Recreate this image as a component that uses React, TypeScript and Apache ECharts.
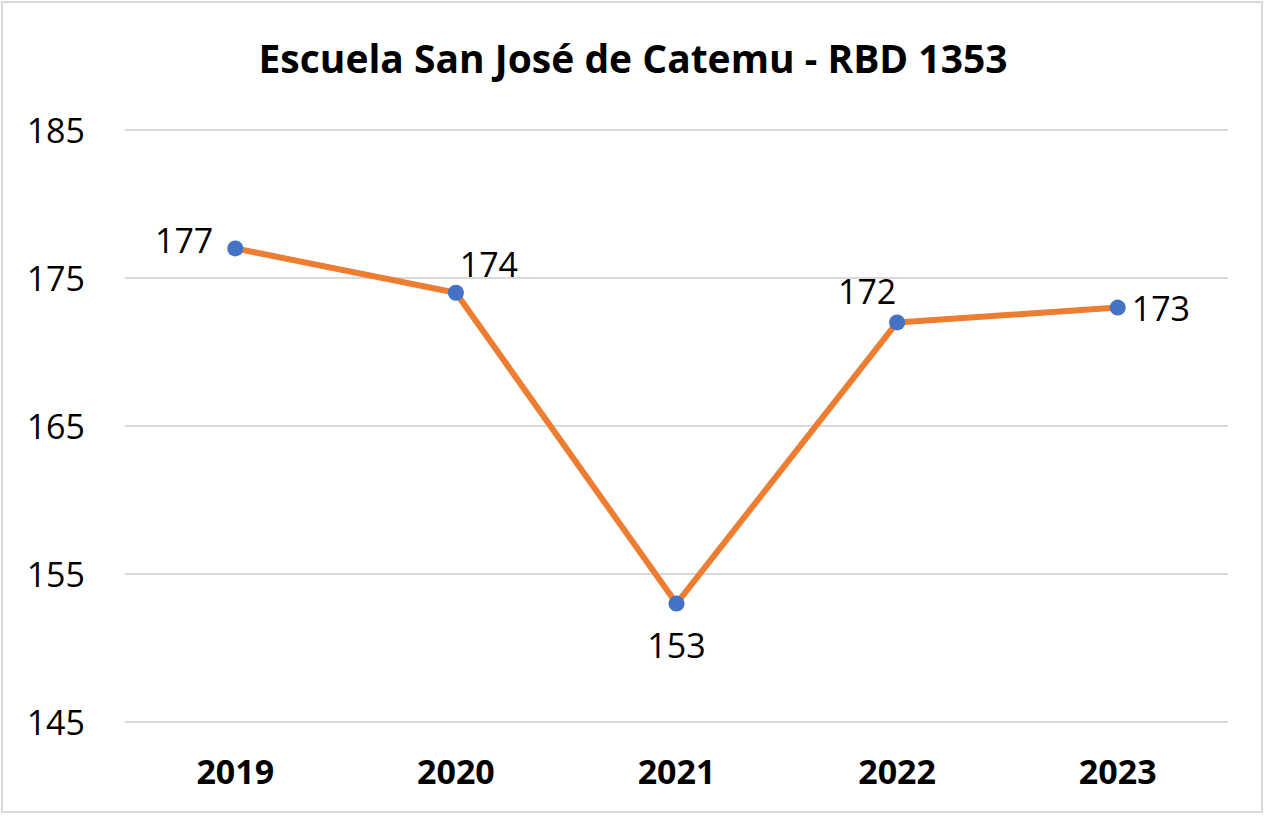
import React, { useEffect, useRef } from "react";
import * as echarts from "echarts";

const categories = ["2019", "2020", "2021", "2022", "2023"];
const values = [177, 174, 153, 172, 173];
const yTicks = [145, 155, 165, 175, 185];
const titleText = "Escuela San José de Catemu - RBD 1353";

const FONT = "'Open Sans', 'Noto Sans', sans-serif";

export default function App() {
  const ref = useRef<HTMLDivElement>(null);
  useEffect(() => {
    if (!ref.current) return;
    const chart = echarts.init(ref.current, undefined, { renderer: "svg" });
    const labelCfg = [
      { position: "left", distance: 14, offset: [0, -8] },
      { position: "top", distance: 4, offset: [33, 0] },
      { position: "bottom", distance: 16, offset: [0, 0] },
      { position: "top", distance: 6, offset: [-30, 0] },
      { position: "right", distance: 6, offset: [0, 0] },
    ];
    chart.setOption({
      animation: false,
      backgroundColor: "#ffffff",
      title: {
        text: titleText,
        left: "center",
        top: 33,
        textStyle: { fontFamily: FONT, fontWeight: "bold", fontSize: 39, color: "#000" },
      },
      graphic: [
        {
          type: "rect",
          shape: { x: 2, y: 2, width: 1260, height: 810 },
          style: { fill: "none", stroke: "#d9d9d9", lineWidth: 2 },
        },
      ],
      grid: { left: 125, right: 38, top: 130, bottom: 95 },
      xAxis: {
        type: "category",
        data: categories,
        boundaryGap: true,
        axisLine: { show: false },
        axisTick: { show: false },
        axisLabel: { fontFamily: FONT, fontWeight: "bold", fontSize: 34, color: "#000", margin: 32 },
      },
      yAxis: {
        type: "value",
        min: yTicks[0],
        max: yTicks[yTicks.length - 1],
        interval: 10,
        axisLine: { show: false },
        axisTick: { show: false },
        splitLine: { lineStyle: { color: "#d9d9d9", width: 2 } },
        axisLabel: { fontFamily: FONT, fontWeight: 500, fontSize: 34, color: "#000", margin: 40 },
      },
      series: [
        {
          type: "line",
          data: values.map((v, i) => ({
            value: v,
            label: {
              show: true,
              position: labelCfg[i].position,
              distance: labelCfg[i].distance,
              offset: labelCfg[i].offset,
            },
          })),
          symbol: "circle",
          symbolSize: 16,
          lineStyle: { color: "#ED7D31", width: 6 },
          itemStyle: { color: "#4472C4" },
          label: { fontFamily: FONT, fontWeight: 500, fontSize: 34, color: "#000" },
          z: 3,
        },
      ],
    });
    return () => chart.dispose();
  }, []);
  return (
    <div
      ref={ref}
      style={{ position: "fixed", left: 0, top: 0, width: 1266, height: 817 }}
    />
  );
}
